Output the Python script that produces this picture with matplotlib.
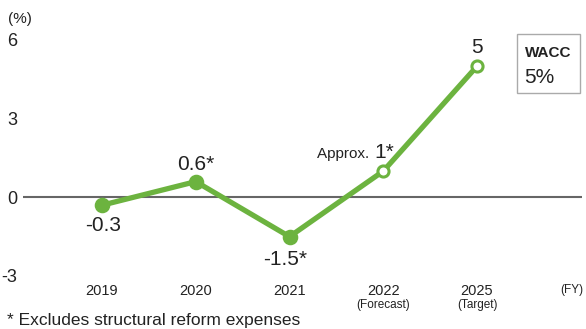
import matplotlib.pyplot as plt
from matplotlib.patches import Rectangle

years = ["2019", "2020", "2021", "2022", "2025"]
sub_labels = ["", "", "", "(Forecast)", "(Target)"]
values = [-0.3, 0.6, -1.5, 1, 5]
value_labels = ["-0.3", "0.6*", "-1.5*", "1*", "5"]
filled = [True, True, True, False, False]
yticks = [-3, 0, 3, 6]

green = "#6cb33f"
text_col = "#222222"

plt.rcParams["font.family"] = ["Liberation Sans", "DejaVu Sans"]

W, H = 586, 329
fig = plt.figure(figsize=(W / 100, H / 100), dpi=100)
# axes box in pixels: x 23..582, y 40..276
ax = fig.add_axes([23 / W, 1 - 276 / H, (582 - 23) / W, (276 - 40) / H])
x = list(range(len(years)))
ax.set_xlim(-79 / 93.75, 4 + 105 / 93.75)
ax.set_ylim(-3, 6)

for s in ax.spines.values():
    s.set_visible(False)
ax.axhline(0, color="#666666", lw=1.5, zorder=1)

ax.plot(x, values, color=green, lw=3.8, solid_capstyle="round", zorder=2)
for xi, v, f in zip(x, values, filled):
    ax.plot(xi, v, "o", ms=9 if f else 8, mfc=green if f else "white",
            mec=green, mew=2.2, zorder=3)

# label offsets in pixels from each point
offsets = [(1, -20), (0, 17), (-4, -23), None, (0, 19)]
for xi, v, lab, off in zip(x, values, value_labels, offsets):
    if off is None:
        continue
    ax.annotate(lab, (xi, v), xytext=off, textcoords="offset pixels",
                ha="center", va="center", fontsize=15, color=text_col)
ax.annotate("Approx. ", (3, 1), xytext=(-10, 13), textcoords="offset pixels",
            ha="right", va="baseline", fontsize=11, color=text_col)
ax.annotate(value_labels[3], (3, 1), xytext=(-9, 13), textcoords="offset pixels",
            ha="left", va="baseline", fontsize=15, color=text_col)

ax.set_yticks(yticks)
ax.set_yticklabels([str(t) for t in yticks], fontsize=13, color=text_col)
ax.set_xticks(x)
ax.set_xticklabels(years, fontsize=10.5, color=text_col)
ax.tick_params(axis="both", length=0)
ax.tick_params(axis="y", pad=4)
ax.tick_params(axis="x", pad=6)

for xi, sub in zip(x, sub_labels):
    if sub:
        ax.annotate(sub, (xi, 0), xycoords=ax.get_xaxis_transform(),
                    xytext=(0, -29), textcoords="offset pixels",
                    ha="center", va="center", fontsize=8.5, color=text_col)

fig.text(572 / W, 1 - 290 / H, "(FY)", ha="center", va="center",
         fontsize=8.5, color=text_col)
fig.text(20 / W, 1 - 19 / H, "(%)", ha="center", va="center",
         fontsize=11, color=text_col)
fig.text(7 / W, 1 - 320 / H, "* Excludes structural reform expenses",
         ha="left", va="center", fontsize=12.5, color=text_col)

# WACC box
fig.patches.append(Rectangle((517 / W, 1 - 93 / H), 63 / W, 59 / H,
                             transform=fig.transFigure, fill=False,
                             ec="#aaaaaa", lw=1))
fig.text(525 / W, 1 - 53 / H, "WACC", ha="left", va="center",
         fontsize=11, fontweight="bold", color=text_col)
fig.text(524 / W, 1 - 77.5 / H, "5%", ha="left", va="center",
         fontsize=15, color=text_col)

fig.savefig("out.png", dpi=100)
